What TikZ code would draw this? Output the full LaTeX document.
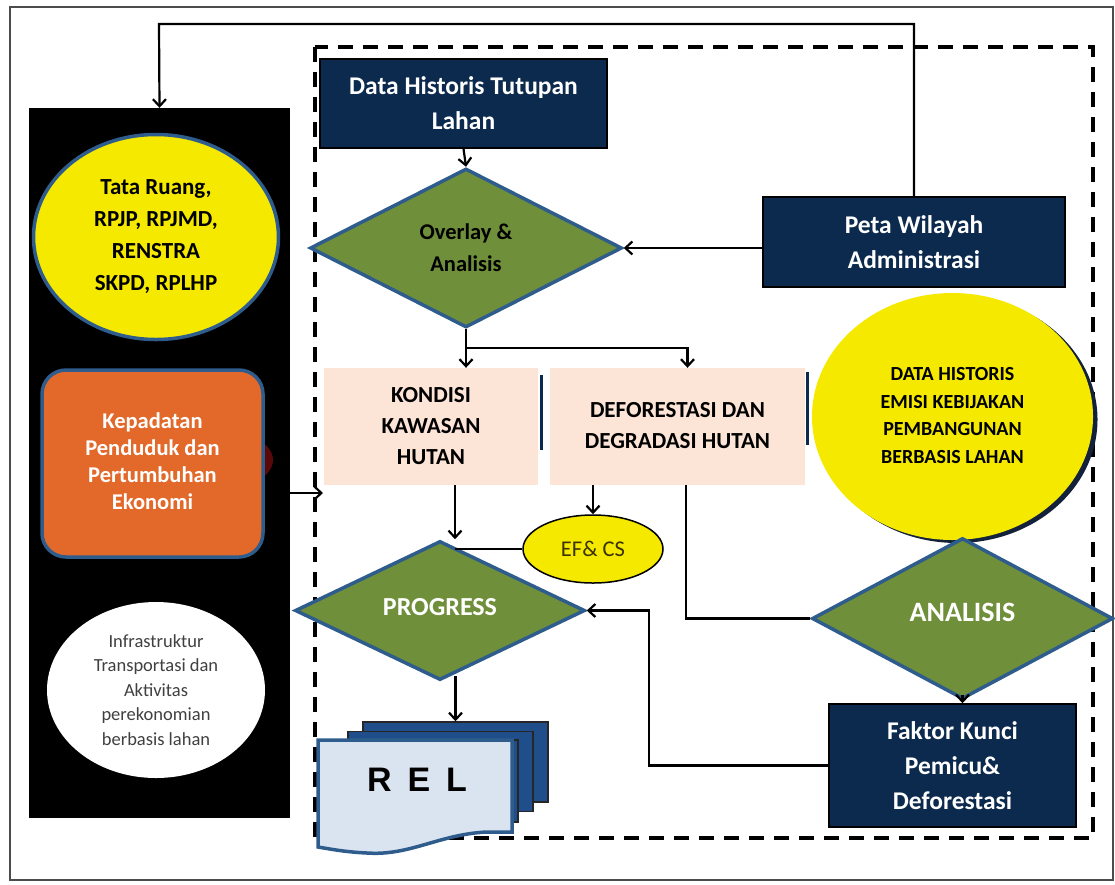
\documentclass[tikz,border=0pt]{standalone}
\usepackage{fontspec}
\setmainfont{Carlito}
\newfontfamily\relfont{Liberation Sans}
\usetikzlibrary{arrows.meta, positioning, shapes.geometric, calc}

\definecolor{BoxNavy}{HTML}{0C2A4E}
\definecolor{DiaGreen}{HTML}{6F8F3A}
\definecolor{EdgeBlue}{HTML}{2E5C8C}
\definecolor{SunYellow}{HTML}{F5E900}
\definecolor{Peach}{HTML}{FCE5D7}
\definecolor{RoadOrange}{HTML}{E2692A}
\definecolor{DocBlue}{HTML}{1F4E8A}
\definecolor{DocLight}{HTML}{DAE3F0}
\definecolor{RedGlow}{HTML}{5A0808}
\definecolor{ShadowNavy}{HTML}{13223A}
\definecolor{EfText}{HTML}{3A3300}

\newcommand{\liftlines}[2]{\raisebox{#1}{\begin{tabular}{@{}c@{}}#2\end{tabular}}}

\begin{document}
\begin{tikzpicture}[x=1pt, y=-1pt, >={Straight Barb[length=7pt,width=13pt]},
  conn/.style={->, line width=2.2pt},
  navybox/.style={draw=black, line width=1.5pt, fill=BoxNavy, text=white,
    font=\bfseries\fontsize{25.5}{35}\selectfont, align=center, inner sep=0pt},
  peachbox/.style={fill=Peach, font=\bfseries\fontsize{23}{31}\selectfont,
    align=center, inner sep=0pt},
  greendia/.style={diamond, draw=EdgeBlue, line width=3.5pt, fill=DiaGreen,
    inner sep=0pt, align=center},
  sunoval/.style={ellipse, fill=SunYellow, inner sep=0pt, align=center},
  docpage/.style={draw=black!85, line width=1.5pt, fill=DocBlue, inner sep=0pt}]
  \useasboundingbox (0,0) rectangle (1115,884);

  % Frames
  \draw[line width=1.5pt, black!70] (10,7) rectangle (1113,880);
  \draw[line width=4pt, dash pattern=on 15pt off 10pt] (315,47) rectangle (1093,838);

  % Left panel
  \node[fill=black, minimum width=261pt, minimum height=710pt, inner sep=0pt] (panel) at (159.5,463) {};
  \node[sunoval, draw=EdgeBlue, line width=3.5pt, minimum width=245pt, minimum height=205pt,
    font=\bfseries\fontsize{23}{32}\selectfont] (tata) at (156,237)
    {Tata Ruang,\\RPJP, RPJMD,\\RENSTRA\\SKPD, RPLHP};
  \node[ellipse, fill=RedGlow, minimum width=150pt, minimum height=70pt] (glow) at (198,460) {};
  \node[draw=EdgeBlue, line width=3.5pt, fill=RoadOrange, rounded corners=24pt,
    minimum width=221pt, minimum height=187pt, inner sep=0pt, text=white,
    font=\bfseries\fontsize{22.5}{27}\selectfont] (dens) at (152.5,463.5)
    {\liftlines{11pt}{Kepadatan\\Penduduk dan\\Pertumbuhan\\Ekonomi}};
  \node[ellipse, fill=white, minimum width=218pt, minimum height=176pt, inner sep=0pt,
    align=center, text=black!75, font=\fontsize{18.5}{24.5}\selectfont] (infra) at (156,690)
    {Infrastruktur\\Transportasi dan\\Aktivitas\\perekonomian\\berbasis lahan};

  % Process boxes
  \node[navybox, minimum width=287pt, minimum height=89pt] (hist) at (463.5,103.5)
    {Data Historis Tutupan\\Lahan};
  \node[greendia, minimum width=312pt, minimum height=159pt,
    font=\bfseries\fontsize{22.5}{32}\selectfont] (overlay) at (466,248) {Overlay \&\\Analisis};
  \node[navybox, minimum width=302pt, minimum height=90pt] (peta) at (914,242)
    {Peta Wilayah\\Administrasi};
  \node[peachbox, minimum width=214pt, minimum height=117pt] (kondisi) at (431,426.5)
    {KONDISI\\KAWASAN\\HUTAN};
  \node[peachbox, minimum width=255pt, minimum height=117pt] (defor) at (677.5,426.5)
    {\liftlines{14pt}{DEFORESTASI DAN\\DEGRADASI HUTAN}};
  \draw[BoxNavy, line width=3pt] (541,375) -- (541,450);
  \draw[BoxNavy, line width=3pt] (807,372) -- (807,445);

  \node[ellipse, fill=ShadowNavy, minimum width=281pt, minimum height=247pt] (emisishade) at (957,419.5) {};
  \node[sunoval, minimum width=281pt, minimum height=247pt,
    font=\bfseries\fontsize{20}{27.5}\selectfont] (emisi) at (952.5,416.5)
    {\liftlines{14pt}{DATA HISTORIS\\EMISI KEBIJAKAN\\PEMBANGUNAN\\BERBASIS LAHAN}};

  \node[ellipse, draw=black, line width=1.5pt, fill=SunYellow, minimum width=140pt,
    minimum height=68pt, inner sep=0pt, text=EfText, font=\fontsize{22.5}{26}\selectfont]
    (efcs) at (593,549) {EF\& CS};
  \node[greendia, minimum width=290pt, minimum height=133pt, text=white,
    font=\bfseries\fontsize{26}{30}\selectfont] (progress) at (440,610.5) {\raisebox{8pt}{PROGRESS}};
  \node[greendia, minimum width=301pt, minimum height=161pt, text=white,
    font=\bfseries\fontsize{28}{32}\selectfont] (analisis) at (962.5,618.5) {\raisebox{13pt}{ANALISIS}};
  \node[navybox, minimum width=247pt, minimum height=123pt] (faktor) at (952.5,765.5)
    {Faktor Kunci\\Pemicu\&\\Deforestasi};

  % REL document stack
  \node[docpage, minimum width=185pt, minimum height=80pt] (rela) at (455.5,762) {};
  \node[docpage, minimum width=185pt, minimum height=80pt] (relb) at (440.5,771.5) {};
  \node[docpage, minimum width=185pt, minimum height=82pt] (relc) at (425.5,781) {};
  \filldraw[fill=DocLight, draw=EdgeBlue, line width=3.5pt] (318,740) -- (512,740) -- (512,832)
    -- (487,832) .. controls (440,834) and (410,856) .. (367,853)
    .. controls (345,852) and (330,849) .. (318,847) -- cycle;
  \node[font=\relfont\bfseries\fontsize{34}{40}\selectfont] (reltext) at (417,780)
    {R\hspace{16pt}E\hspace{16pt}L};

  % Connectors
  \coordinate (ctop) at (159,24);
  \draw[conn] (peta.north) |- (ctop) -- (panel.north);
  \draw[conn] (hist.south) -- (overlay.north);
  \draw[conn] (peta.west |- overlay.east) -- (overlay.east);
  \coordinate (split) at (466,348);
  \draw[line width=2.2pt] (overlay.south) -- (split);
  \draw[conn] (split) -- (split |- kondisi.north);
  \draw[conn] (split) -| ([xshift=10pt]defor.north);
  \coordinate (kdrop) at ([xshift=24pt]kondisi.south);
  \draw[conn] (kdrop) -- (kdrop |- progress.north);
  \draw[line width=2.2pt] (efcs.west) -- (efcs.west -| kdrop);
  \draw[conn] (efcs.north |- defor.south) -- (efcs.north);
  \draw[line width=2.2pt] ([xshift=8.5pt]defor.south) |- (analisis.west);
  \draw[conn] ([yshift=6pt]analisis.south) -- (analisis.south |- faktor.north);
  \coordinate (fbend) at (649,610.5);
  \draw[conn] (faktor.west) -| (fbend) -- (progress.east);
  \draw[conn] ($(progress.south -| rela.north)+(0,-6)$) -- (rela.north);
  \coordinate (pin) at (323,493);
  \draw[conn] (panel.east |- pin) -- (pin);
\end{tikzpicture}
\end{document}
